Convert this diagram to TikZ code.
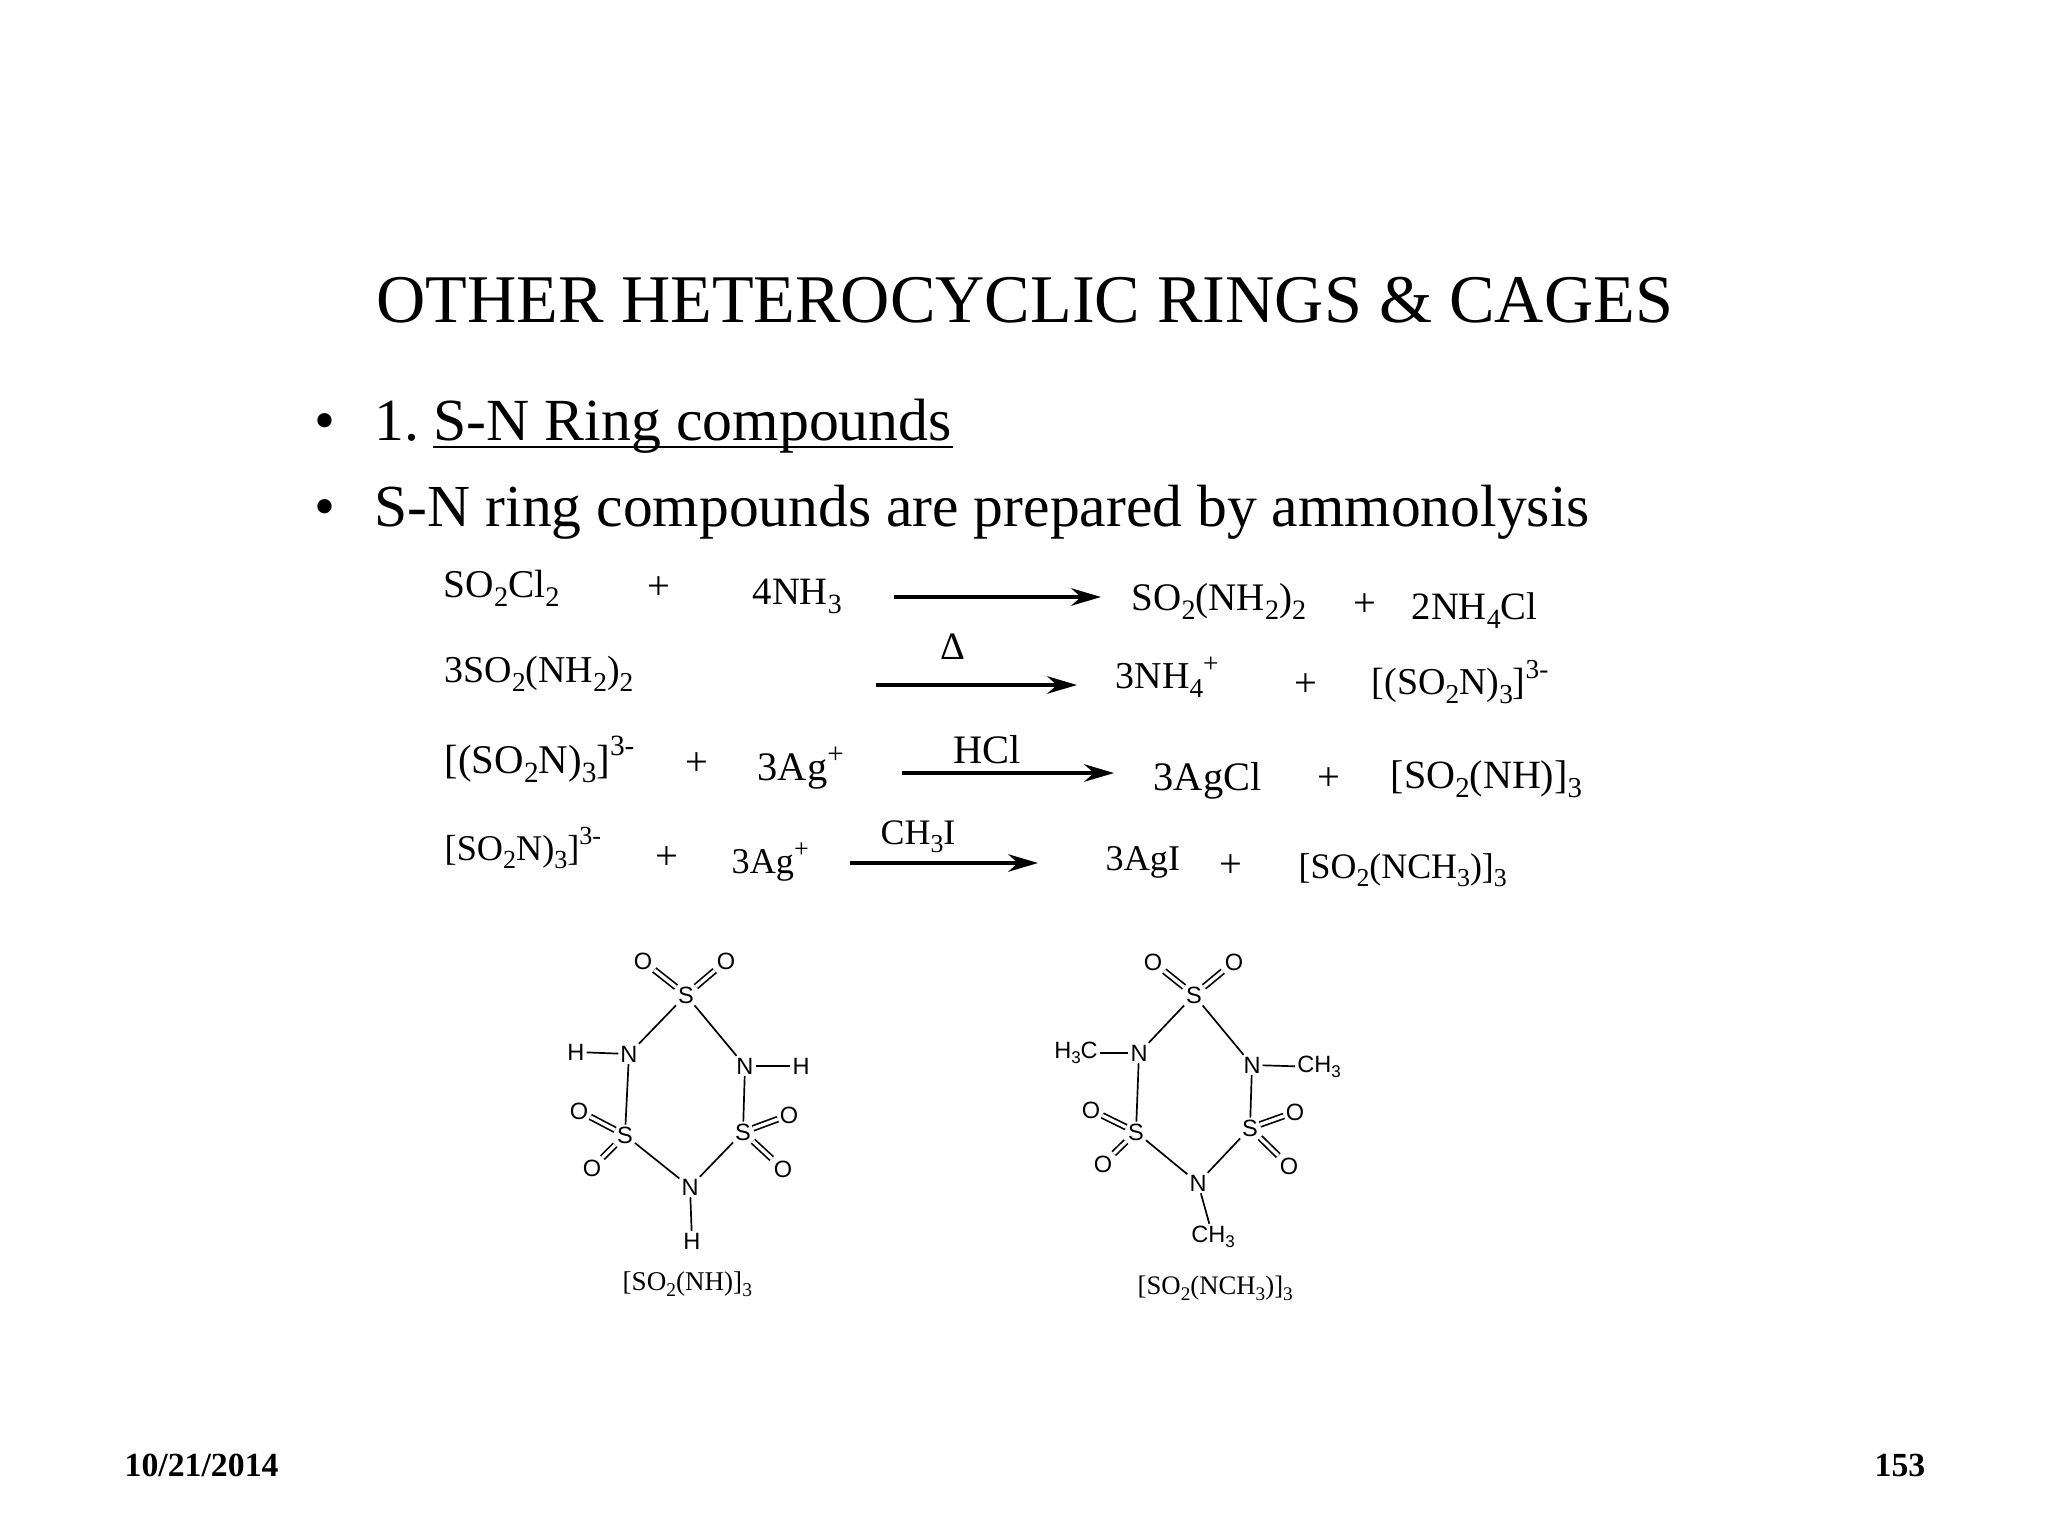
\documentclass[tikz,border=0pt]{standalone}
\usepackage{fontspec}
\setmainfont{Liberation Serif}
\newfontfamily\atomfont{Liberation Sans}
\usetikzlibrary{arrows.meta, positioning}
\newcommand{\sbs}[1]{\raisebox{-0.24em}{\scalebox{0.72}{#1}}}
\newcommand{\sps}[1]{\raisebox{0.42em}{\scalebox{0.72}{#1}}}
\tikzset{
  slide/.style={
	x=0.01cm, y=-0.01cm, % one unit is one pixel of the slide
  },
  txt/.style={anchor=base west, inner sep=0pt, font=\fontsize{#1}{#1}\selectfont},
  plus/.style={inner sep=0pt, font=\fontsize{11.5}{11.5}\selectfont},
  react/.style={-{Stealth[length=8.5pt,width=5pt]}, line width=0.9pt}, % reaction arrow
  atom/.style={inner sep=0.4pt, font=\atomfont\fontsize{6.7}{6.7}\selectfont},
  bond/.style={draw, line width=0.48pt},
  dbond/.style={draw, line width=0.48pt, double, double distance=0.95pt},
}
\begin{document}
\begin{tikzpicture}[slide]
\useasboundingbox[fill=white] (0,0) rectangle (2048,1536);

% title and bullets
\node[txt=19.4] (title) at (376,322) {OTHER HETEROCYCLIC RINGS \& CAGES};
\node[txt=17] (bulA) at (314,440) {•};
\node[txt=17] (one) at (374,440) {1.};
\node[txt=17] (ringhead) at (433,440) {S-N Ring compounds};
\node[txt=17] (bulB) at (314,526) {•};
\node[txt=16.95] (prep) at (374,526) {S-N ring compounds are prepared by ammonolysis};
\draw[line width=0.6pt] ([yshift=-1.9pt]ringhead.base west) -- ([yshift=-1.9pt]ringhead.base east);

% first row
\node[txt=11.2] (ra) at (443,597) {SO\sbs{2}Cl\sbs{2}};
\node[plus] (pa) at (659,588) {+};
\node[txt=11] (rb) at (752,604) {4NH\sbs{3}};
\coordinate (aS) at (894,597);
\coordinate (aE) at (1101,597);
\node[txt=11.1] (rc) at (1131,610) {SO\sbs{2}(NH\sbs{2})\sbs{2}};
\node[plus] (pb) at (1365,605) {+};
\node[txt=11] (rd) at (1411,619) {2NH\sbs{4}Cl};

% second row
\node[txt=10.8] (sa) at (444,682) {3SO\sbs{2}(NH\sbs{2})\sbs{2}};
\node[txt=11] (delta) at (940,659) {Δ};
\coordinate (bS) at (876,685);
\coordinate (bE) at (1077,685);
\node[txt=10.8] (sc) at (1115,688) {3NH\sbs{4}\sps{+}};
\node[plus] (pc) at (1306,685) {+};
\node[txt=10.8] (sd) at (1371,694) {[(SO\sbs{2}N)\sbs{3}]\sps{3-}};

% third row
\node[txt=11.6] (ta) at (444,773) {[(SO\sbs{2}N)\sbs{3}]\sps{3-}};
\node[plus] (pd) at (697,764) {+};
\node[txt=11.5] (tb) at (757,780) {3Ag\sps{+}};
\node[txt=11.5] (hcl) at (953,763) {HCl};
\coordinate (cS) at (902,773);
\coordinate (cE) at (1114,773);
\node[txt=11.5] (tc) at (1153,790) {3AgCl};
\node[plus] (pe) at (1329,779) {+};
\node[txt=11.4] (td) at (1390,788) {[SO\sbs{2}(NH)]\sbs{3}};

% fourth row
\node[txt=10.3] (ua) at (444,860) {[SO\sbs{2}N)\sbs{3}]\sps{3-}};
\node[plus] (pf) at (667,858) {+};
\node[txt=10.3] (ub) at (731,873) {3Ag\sps{+}};
\node[txt=10.2] (chi) at (880,844) {CH\sbs{3}I};
\coordinate (dS) at (850,863);
\coordinate (dE) at (1038,863);
\node[txt=10.3] (uc) at (1105,870) {3AgI};
\node[plus] (pg) at (1231,866) {+};
\node[txt=10.2] (ud) at (1298,878) {[SO\sbs{2}(NCH\sbs{3})]\sbs{3}};

\draw[react] (aS) -- (aE);
\draw[react] (bS) -- (bE);
\draw[react] (cS) -- (cE);
\draw[react] (dS) -- (dE);

% left ring
\node[atom] (S1) at (686,995) {S};
\node[atom] (O1) at (643,961) {O};
\node[atom] (O2) at (726,961) {O};
\node[atom] (N1) at (629,1054) {N};
\node[atom] (H1) at (576,1052) {H};
\node[atom] (N2) at (745,1066) {N};
\node[atom] (H2) at (801,1066) {H};
\node[atom] (S2) at (625,1135) {S};
\node[atom] (O3) at (579,1111) {O};
\node[atom] (O4) at (592,1168) {O};
\node[atom] (S3) at (743,1132) {S};
\node[atom] (O5) at (789,1115) {O};
\node[atom] (O6) at (783,1169) {O};
\node[atom] (N3) at (690,1187) {N};
\node[atom] (H3) at (692,1241) {H};
\node[txt=7.7] (capA) at (622,1290) {[SO\sbs{2}(NH)]\sbs{3}};

\path   (S1) edge[bond] (N1)
	(S1) edge[bond] (N2)
	(N1) edge[bond] (S2)
	(N2) edge[bond] (S3)
	(S2) edge[bond] (N3)
	(S3) edge[bond] (N3)
	(H1) edge[bond] (N1)
	(N2) edge[bond] (H2)
	(N3) edge[bond] (H3)
	(S1) edge[dbond] (O1)
	(S1) edge[dbond] (O2)
	(S2) edge[dbond] (O3)
	(S2) edge[dbond] (O4)
	(S3) edge[dbond] (O5)
	(S3) edge[dbond] (O6)
;

% right ring
\node[atom] (Sa) at (1194,995) {S};
\node[atom] (Oa) at (1153,962) {O};
\node[atom] (Ob) at (1234,962) {O};
\node[atom] (Na) at (1139,1053) {N};
\node[atom] (Me1) at (1076,1053) {H\sbs{3}C};
\node[atom] (Nb) at (1252,1065) {N};
\node[atom] (Me2) at (1319,1067) {CH\sbs{3}};
\node[atom] (Sb) at (1136,1132) {S};
\node[atom] (Oc) at (1091,1110) {O};
\node[atom] (Od) at (1103,1164) {O};
\node[atom] (Sc) at (1250,1128) {S};
\node[atom] (Oe) at (1295,1112) {O};
\node[atom] (Of) at (1289,1166) {O};
\node[atom] (Nc) at (1198,1183) {N};
\node[atom] (Me3) at (1213,1237) {CH\sbs{3}};
\node[txt=7.6] (capB) at (1137,1294) {[SO\sbs{2}(NCH\sbs{3})]\sbs{3}};

\path   (Sa) edge[bond] (Na)
	(Sa) edge[bond] (Nb)
	(Na) edge[bond] (Sb)
	(Nb) edge[bond] (Sc)
	(Sb) edge[bond] (Nc)
	(Sc) edge[bond] (Nc)
	(Me1) edge[bond] (Na)
	(Nb) edge[bond] (Me2)
	(Nc) edge[bond] (Me3)
	(Sa) edge[dbond] (Oa)
	(Sa) edge[dbond] (Ob)
	(Sb) edge[dbond] (Oc)
	(Sb) edge[dbond] (Od)
	(Sc) edge[dbond] (Oe)
	(Sc) edge[dbond] (Of)
;

% footer
\node[txt=9.6, font=\bfseries\fontsize{9.6}{9.6}\selectfont] (date) at (124,1476) {10/21/2014};
\node[txt=9.6, font=\bfseries\fontsize{9.6}{9.6}\selectfont] (page) at (1874,1476) {153};
\end{tikzpicture}
\end{document}
